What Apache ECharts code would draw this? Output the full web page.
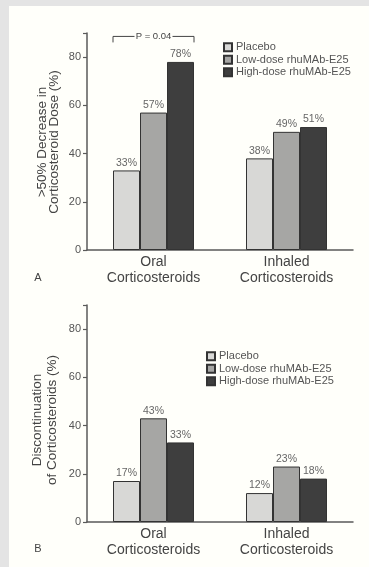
<!DOCTYPE html>
<html><head><meta charset="utf-8">
<script src="https://cdn.jsdelivr.net/npm/echarts@6/dist/echarts.min.js"></script>
<style>html,body{margin:0;padding:0;background:#e4e4e4;}#wrap{position:absolute;left:9px;top:6px;width:360px;height:561px;background:#fffffa;}#c{position:absolute;left:0;top:0;width:369px;height:567px;}</style>
</head><body><div id="wrap"></div><div id="c"></div>
<script>
const categories = ['Oral\nCorticosteroids', 'Inhaled\nCorticosteroids'];
const seriesNames = ['Placebo', 'Low-dose rhuMAb-E25', 'High-dose rhuMAb-E25'];
const placeboA = [33, 38];
const lowA = [57, 49];
const highA = [78, 51];
const placeboB = [17, 12];
const lowB = [43, 23];
const highB = [33, 18];
const yTicks = [0, 20, 40, 60, 80];
const colors = ['#d8d8d6', '#a6a6a4', '#3e3e3e'];

const chart = echarts.init(document.getElementById('c'), null, {renderer: 'canvas'});
const axisCol = '#5a5a5a';
const FF = 'Liberation Sans, Arial';
function xAxis(gi) {
  return {type: 'category', gridIndex: gi, data: categories,
    axisLine: {lineStyle: {color: axisCol, width: 1.5}}, axisTick: {show: false},
    axisLabel: {color: '#444', fontSize: 14, lineHeight: 16, margin: 4, fontFamily: FF}};
}
function yAxis(gi) {
  return {type: 'value', gridIndex: gi, min: 0, max: 90, interval: 20,
    splitLine: {show: false},
    axisLine: {show: true, lineStyle: {color: axisCol, width: 1.5}},
    axisTick: {show: true, length: 4, lineStyle: {color: axisCol, width: 1.2}},
    axisLabel: {color: '#555', fontSize: 11, margin: 6, fontFamily: FF,
      formatter: v => yTicks.indexOf(v) >= 0 ? String(v) : ''}};
}
function bar(name, data, gi, ci) {
  return {name, type: 'bar', xAxisIndex: gi, yAxisIndex: gi, data, barWidth: 27, barGap: '0%',
    itemStyle: {color: colors[ci], borderColor: '#333', borderWidth: 1},
    label: {show: true, position: 'top', distance: 2, color: '#666', fontSize: 10.5, fontFamily: FF, formatter: p => p.value + '%'}};
}
const legendBase = {orient: 'vertical', itemWidth: 8, itemHeight: 8, itemGap: 0, icon: 'rect',
  textStyle: {color: '#555', fontSize: 11, lineHeight: 12.5, fontFamily: FF, padding: [0,0,0,-1]},
  data: seriesNames, selectedMode: false};
chart.setOption({
  animation: false,
  grid: [
    {left: 87, right: 16, top: 33, bottom: 317},
    {left: 87, right: 16, top: 305, bottom: 45}
  ],
  xAxis: [xAxis(0), xAxis(1)],
  yAxis: [yAxis(0), yAxis(1)],
  legend: [
    Object.assign({}, legendBase, {left: 218, top: 36}),
    Object.assign({}, legendBase, {left: 201, top: 345})
  ],
  series: [
    bar(seriesNames[0], placeboA, 0, 0), bar(seriesNames[1], lowA, 0, 1), bar(seriesNames[2], highA, 0, 2),
    bar(seriesNames[0], placeboB, 1, 0), bar(seriesNames[1], lowB, 1, 1), bar(seriesNames[2], highB, 1, 2)
  ]
});
// annotations
const p0 = chart.convertToPixel({gridIndex: 0}, [0, 0]);
const bw = 27;
const bx0 = p0[0] - 1.5 * bw, bx1 = p0[0] + 1.5 * bw;
const by = chart.convertToPixel({gridIndex: 0}, [0, 89])[1] + 1;
const txt = (t, x, y, size, rot) => ({type: 'text', x, y, rotation: rot || 0,
  style: {text: t, fill: '#444', fontSize: size, fontFamily: FF, textAlign: 'center', textVerticalAlign: 'middle'}});
chart.setOption({graphic: [
  {type: 'polyline', shape: {points: [[bx0, by + 6], [bx0, by], [p0[0] - 19, by]]}, style: {stroke: '#444', lineWidth: 1, fill: null}},
  {type: 'polyline', shape: {points: [[p0[0] + 19, by], [bx1, by], [bx1, by + 6]]}, style: {stroke: '#444', lineWidth: 1, fill: null}},
  txt('P = 0.04', p0[0], by, 9.5),
  txt('>50% Decrease in', 42, 142, 13.5, Math.PI / 2),
  txt('Corticosteroid Dose (%)', 54, 142, 13.5, Math.PI / 2),
  txt('Discontinuation', 37, 420, 13.5, Math.PI / 2),
  txt('of Corticosteroids (%)', 52, 420, 13.5, Math.PI / 2),
  txt('A', 38, 278, 11),
  txt('B', 38, 549, 11)
]});
</script></body></html>
